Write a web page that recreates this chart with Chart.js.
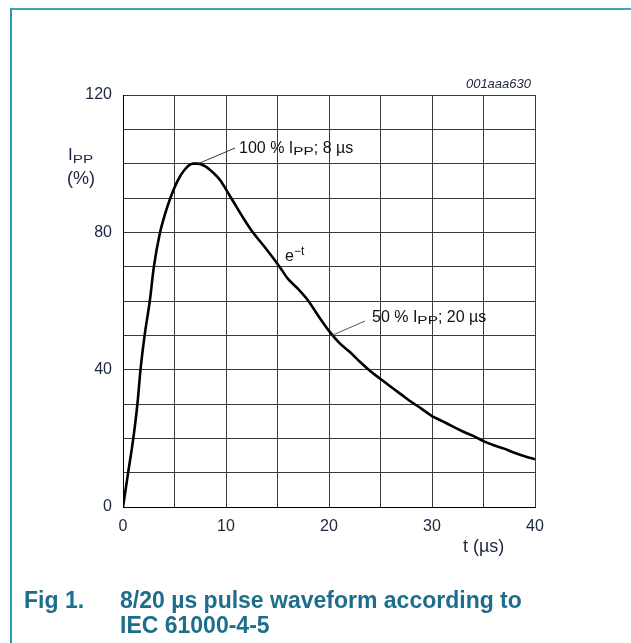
<!DOCTYPE html>
<html>
<head>
<meta charset="utf-8">
<script src="https://cdn.jsdelivr.net/npm/chart.js@4.4.1/dist/chart.umd.min.js"></script>
<style>
  html, body { margin: 0; padding: 0; background: #fff; }
  #wrap { position: relative; width: 631px; height: 643px; overflow: hidden; }
  #frame { position: absolute; left: 10px; top: 8px; width: 640px; height: 660px;
           border-top: 2px solid #45a2b8; border-left: 2px solid #2a97b0; }
  canvas { position: absolute; left: 0; top: 0; }
  .cap { position: absolute; font-family: "Liberation Sans", Arial, sans-serif; font-weight: bold;
         font-size: 23px; color: #1d6e8c; white-space: nowrap; line-height: 25px; }
</style>
</head>
<body>
<div id="wrap">
  <div id="frame"></div>
  <canvas id="c" width="631" height="643"></canvas>
  <div class="cap" style="left:24px; top:588px;">Fig 1.</div>
  <div class="cap" style="left:120px; top:588px;">8/20 µs pulse waveform according to<br>IEC 61000-4-5</div>
</div>
<script>
// ---- data ----
const timeUs = [0, 0.2, 0.5, 1.0, 1.4, 1.7, 2.1, 2.6, 3.0, 3.6, 4.1, 4.6, 5.3, 6.0, 6.8, 7.3, 8.0, 8.7, 9.4, 10.5, 11.8, 12.6, 13.0, 14.0, 15.2, 16.0, 17.0, 18.0, 19.0, 20.0, 21, 22, 23, 24, 25, 26, 27, 28, 29, 30, 31, 32, 33, 34, 35, 36, 37, 38, 39, 40];
const ippPercent = [0, 4, 10, 20, 30, 40, 50, 60, 70, 80, 85.5, 90, 95, 98.3, 100, 100, 99.2, 97.5, 95.3, 90, 83.6, 80, 78.5, 74.8, 70, 66.5, 63.5, 60, 55.5, 51.3, 47.8, 45.2, 42.3, 39.6, 37.3, 35, 32.8, 30.6, 28.6, 26.5, 25, 23.5, 22, 20.7, 19.2, 18, 17, 15.8, 14.8, 13.9];
const xTickLabels = [0, 10, 20, 30, 40];
const yTickLabels = [0, 40, 80, 120];
const peakPoint = { x: 7.3, y: 100 };
const halfPoint = { x: 20.3, y: 50 };

const FONT = '"Liberation Sans", Arial, sans-serif';
const AXIS_TXT = '#1c2541';

function drawRuns(ctx, x, y, runs, color) {
  ctx.save();
  ctx.fillStyle = color;
  ctx.textBaseline = 'alphabetic';
  ctx.textAlign = 'left';
  let cx = x;
  for (const r of runs) {
    ctx.font = (r.style || '') + ' ' + r.size + 'px ' + FONT;
    const sx = r.sx || 1;
    const w = ctx.measureText(r.t).width * sx;
    ctx.save();
    ctx.translate(cx, y + (r.dy || 0));
    ctx.scale(sx, 1);
    ctx.fillText(r.t, 0, 0);
    ctx.restore();
    cx += w;
  }
  ctx.restore();
}

const annotations = {
  id: 'annotations',
  afterDraw(chart) {
    const ctx = chart.ctx;
    const xs = chart.scales.x, ys = chart.scales.y;
    // leader lines
    ctx.save();
    ctx.strokeStyle = '#333';
    ctx.lineWidth = 1;
    ctx.beginPath();
    ctx.moveTo(xs.getPixelForValue(peakPoint.x), ys.getPixelForValue(peakPoint.y));
    ctx.lineTo(235, 148);
    ctx.stroke();
    ctx.strokeStyle = '#555';
    ctx.beginPath();
    ctx.moveTo(xs.getPixelForValue(halfPoint.x), ys.getPixelForValue(halfPoint.y));
    ctx.lineTo(365, 321);
    ctx.stroke();
    ctx.restore();

    drawRuns(ctx, 239, 153, [
      { t: '100 % I', size: 16 },
      { t: 'PP', size: 11, sx: 1.4, dy: 2 },
      { t: '; 8 µs', size: 16 }
    ], '#111');
    drawRuns(ctx, 372, 322, [
      { t: '50 % I', size: 16 },
      { t: 'PP', size: 11, sx: 1.4, dy: 2 },
      { t: '; 20 µs', size: 16 }
    ], '#111');
    drawRuns(ctx, 285, 261, [
      { t: 'e', size: 16 },
      { t: '\u2212t', size: 12, dy: -6 }
    ], '#111');

    // y-axis title
    drawRuns(ctx, 68, 160, [
      { t: 'I', size: 17 },
      { t: 'PP', size: 11, sx: 1.4, dy: 2.5 }
    ], AXIS_TXT);
    drawRuns(ctx, 67, 184, [{ t: '(%)', size: 18 }], AXIS_TXT);
    // x-axis title
    drawRuns(ctx, 463, 552, [{ t: 't (µs)', size: 18 }], AXIS_TXT);

    // figure id
    ctx.save();
    ctx.font = 'italic 13px ' + FONT;
    ctx.fillStyle = '#1c2541';
    ctx.textAlign = 'right';
    ctx.textBaseline = 'alphabetic';
    ctx.fillText('001aaa630', 531, 88);
    ctx.restore();
  }
};

new Chart(document.getElementById('c'), {
  type: 'scatter',
  data: {
    datasets: [{
      data: timeUs.map((t, i) => ({ x: t, y: ippPercent[i] })),
      showLine: true,
      borderColor: '#000',
      borderWidth: 2.6,
      pointRadius: 0,
      cubicInterpolationMode: 'monotone',
      fill: false
    }]
  },
  options: {
    responsive: false,
    animation: false,
    events: [],
    layout: { padding: { left: 0, top: 95, right: 96, bottom: 0 } },
    plugins: { legend: { display: false }, tooltip: { enabled: false } },
    scales: {
      x: {
        type: 'linear', min: 0, max: 40,
        afterFit: (s) => { s.height = 136; },
        grid: { color: '#3a3a3a', lineWidth: 1, drawTicks: false },
        border: { display: true, color: '#000', width: 1 },
        ticks: {
          stepSize: 5, autoSkip: false, maxRotation: 0, padding: 10,
          color: AXIS_TXT, font: { family: FONT, size: 16 },
          callback: (v) => xTickLabels.includes(v) ? String(v) : ''
        }
      },
      y: {
        type: 'linear', min: 0, max: 120,
        afterFit: (s) => { s.width = 123; },
        grid: { color: '#3a3a3a', lineWidth: 1, drawTicks: false },
        border: { display: true, color: '#000', width: 1 },
        ticks: {
          stepSize: 10, autoSkip: false, padding: 11,
          color: AXIS_TXT, font: { family: FONT, size: 16 },
          callback: (v) => yTickLabels.includes(v) ? String(v) : ''
        }
      }
    }
  },
  plugins: [annotations]
});
</script>
</body>
</html>
